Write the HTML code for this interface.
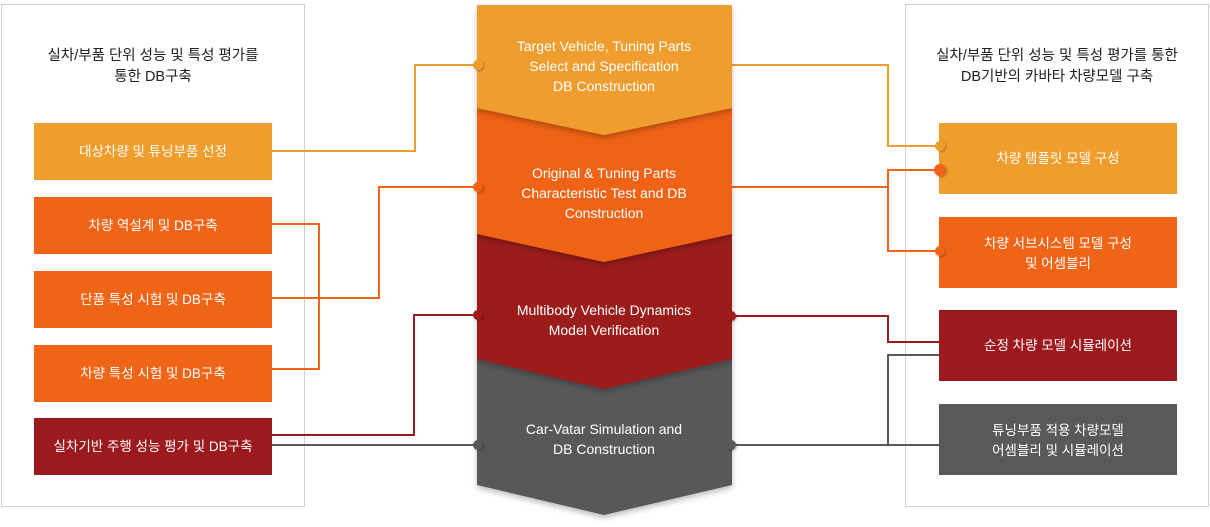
<!DOCTYPE html>
<html><head><meta charset="utf-8"><style>
html,body{margin:0;padding:0;background:#fff;}
svg{display:block;}
text{font-family:"Liberation Sans","Noto Sans CJK KR",sans-serif;}
</style></head><body>
<svg width="1210" height="527" viewBox="0 0 1210 527" xmlns="http://www.w3.org/2000/svg">
<defs>
<filter id="sh" x="-10%" y="-10%" width="120%" height="130%"><feDropShadow dx="0" dy="3" stdDeviation="3" flood-color="#000" flood-opacity="0.25"/></filter>
<filter id="ds" x="-50%" y="-50%" width="200%" height="200%"><feDropShadow dx="1" dy="1" stdDeviation="1" flood-color="#000" flood-opacity="0.3"/></filter>
</defs>
<rect x="1.5" y="4.5" width="303" height="502" fill="#fff" stroke="#d0d0d0"/>
<rect x="905.5" y="4.5" width="303" height="502" fill="#fff" stroke="#d0d0d0"/>
<g font-size="14.5" fill="#222" text-anchor="middle">
<text x="153" y="60">실차/부품 단위 성능 및 특성 평가를</text>
<text x="153" y="81">통한 DB구축</text>
<text x="1057" y="60">실차/부품 단위 성능 및 특성 평가를 통한</text>
<text x="1057" y="81">DB기반의 카바타 차량모델 구축</text>
</g>
<g fill="none" stroke-width="2">
<polyline points="272,151 415,151 415,65 477,65" stroke="#EF9D2D"/>
<polyline points="272,224 319,224 319,369 272,369" stroke="#F06418"/>
<polyline points="272,298 379,298 379,187 477,187" stroke="#F06418"/>
<polyline points="272,435 414,435 414,315 477,315" stroke="#9C1A1D"/>
<polyline points="272,445 477,445" stroke="#595959"/>
<polyline points="732,65 888,65 888,146 939,146" stroke="#EF9D2D"/>
<polyline points="732,187 888,187" stroke="#F06418"/>
<polyline points="939,170 888,170 888,251 939,251" stroke="#F06418"/>
<polyline points="732,316 888,316 888,342 939,342" stroke="#9C1A1D"/>
<polyline points="732,445 939,445" stroke="#595959"/>
<polyline points="939,355 888,355 888,445" stroke="#595959"/>
</g>
<rect x="34" y="123" width="238" height="57" fill="#EF9D2D"/>
<rect x="34" y="197" width="238" height="57" fill="#F06418"/>
<rect x="34" y="271" width="238" height="57" fill="#F06418"/>
<rect x="34" y="345" width="238" height="57" fill="#F06418"/>
<rect x="34" y="418" width="238" height="57" fill="#9C1A1D"/>
<g font-size="13.5" fill="#fff" text-anchor="middle">
<text x="153" y="156">대상차량 및 튜닝부품 선정</text>
<text x="153" y="230">차량 역설계 및 DB구축</text>
<text x="153" y="304">단품 특성 시험 및 DB구축</text>
<text x="153" y="378">차량 특성 시험 및 DB구축</text>
<text x="153" y="451">실차기반 주행 성능 평가 및 DB구축</text>
</g>
<rect x="939" y="123" width="238" height="71" fill="#EF9D2D"/>
<rect x="939" y="217" width="238" height="71" fill="#F06418"/>
<rect x="939" y="310" width="238" height="71" fill="#9C1A1D"/>
<rect x="939" y="404" width="238" height="71" fill="#595959"/>
<g font-size="13.5" fill="#fff" text-anchor="middle">
<text x="1058" y="163">차량 탬플릿 모델 구성</text>
<text x="1058" y="248">차량 서브시스템 모델 구성</text>
<text x="1058" y="268">및 어셈블리</text>
<text x="1058" y="350">순정 차량 모델 시뮬레이션</text>
<text x="1058" y="435">튜닝부품 적용 차량모델</text>
<text x="1058" y="455">어셈블리 및 시뮬레이션</text>
</g>
<polygon points="477,359 732,359 732,485 604,515 477,485" fill="#595959" filter="url(#sh)"/>
<polygon points="477,234 732,234 732,359 604,389 477,359" fill="#9C1A1D" filter="url(#sh)"/>
<polygon points="477,108 732,108 732,234 604,262 477,234" fill="#F06418" filter="url(#sh)"/>
<polygon points="477,5 732,5 732,108 604,135 477,108" fill="#EF9D2D" filter="url(#sh)"/>
<g font-size="14" fill="#fff" text-anchor="middle">
<text x="604" y="51">Target Vehicle, Tuning Parts</text>
<text x="604" y="71">Select and Specification</text>
<text x="604" y="91">DB Construction</text>
<text x="604" y="178">Original &amp; Tuning Parts</text>
<text x="604" y="198">Characteristic Test and DB</text>
<text x="604" y="218">Construction</text>
<text x="604" y="315">Multibody Vehicle Dynamics</text>
<text x="604" y="335">Model Verification</text>
<text x="604" y="434">Car-Vatar Simulation and</text>
<text x="604" y="454">DB Construction</text>
</g>
<g filter="url(#ds)">
<circle cx="478" cy="65" r="5" fill="#EF9D2D"/>
<circle cx="478" cy="187" r="5" fill="#F06418"/>
<circle cx="478" cy="315" r="5" fill="#9C1A1D"/>
<circle cx="478" cy="445" r="5" fill="#595959"/>
<circle cx="731" cy="316" r="5" fill="#9C1A1D"/>
<circle cx="731" cy="445" r="5" fill="#595959"/>
<circle cx="940" cy="146" r="5" fill="#EF9D2D"/>
<circle cx="940" cy="170" r="6" fill="#F06418"/>
<circle cx="940" cy="251" r="5" fill="#F06418"/>
</g>
</svg>
</body></html>
